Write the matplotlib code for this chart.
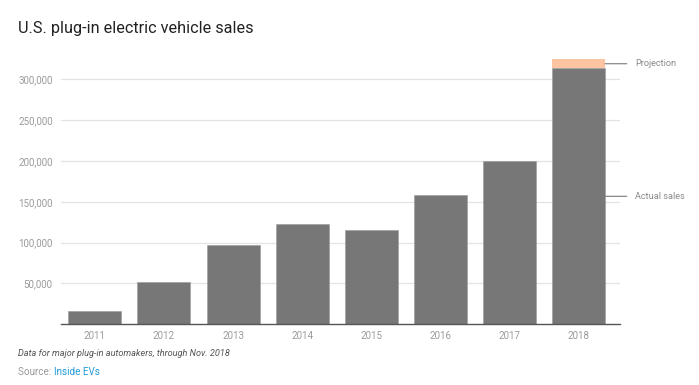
import matplotlib
matplotlib.use("Agg")
import matplotlib.pyplot as plt

years = ["2011", "2012", "2013", "2014", "2015", "2016", "2017", "2018"]
actual_sales = [16600, 51800, 97000, 122400, 115800, 157900, 199800, 313400]
projection = [0, 0, 0, 0, 0, 0, 0, 11400]
yticks = [50000, 100000, 150000, 200000, 250000, 300000]

plt.rcParams['font.family'] = ['Roboto', 'DejaVu Sans']

W, H = 699, 385
fig = plt.figure(figsize=(W / 100, H / 100), dpi=100)
left, right, bottom, top = 61, 620, 324.3, 50
ax = fig.add_axes([left / W, 1 - bottom / H, (right - left) / W, (bottom - top) / H])

x = list(range(len(years)))
bw = 0.767
ax.bar(x, actual_sales, width=bw, color='#777777', edgecolor='#9a9a9a', linewidth=0.4, zorder=3)
ax.bar(x, projection, bottom=actual_sales, width=bw, color='#fdc4a1', linewidth=0, zorder=3)

px_per_unit = 245 / 300000
ax.set_ylim(0, (bottom - top) / px_per_unit)
ax.set_xlim(-0.489, 7.60)

ax.set_yticks(yticks)
ax.set_yticklabels([f"{v:,}" for v in yticks])
ax.set_xticks(x)
ax.set_xticklabels(years)
ax.tick_params(axis='both', length=0, labelsize=7, labelcolor='#9a9a9a')
ax.tick_params(axis='y', pad=6)
ax.tick_params(axis='x', pad=5)
ax.grid(axis='y', color='#e3e3e3', linewidth=0.9, zorder=0)
for s in ['top', 'right', 'left']:
    ax.spines[s].set_visible(False)
ax.spines['bottom'].set_color('#555555')
ax.spines['bottom'].set_linewidth(1.0)
ax.spines['bottom'].set_zorder(4)

# annotations
last = len(years) - 1
for label, yv in [("Projection", actual_sales[last] + projection[last] / 2),
                  ("Actual sales", actual_sales[last] / 2)]:
    ax.annotate(label, xy=(last + bw / 2, yv), xytext=(30, 0), textcoords='offset pixels',
                ha='left', va='center', fontsize=6.6, color='#8a8a8a',
                arrowprops=dict(arrowstyle='-', color='#888888', lw=0.9, shrinkA=4, shrinkB=0),
                annotation_clip=False)

fig.text(18 / W, 1 - 28 / H, "U.S. plug-in electric vehicle sales", fontsize=11.7,
         color='#222222', ha='left', va='center')
fig.text(18 / W, 1 - 354 / H, "Data for major plug-in automakers, through Nov. 2018",
         fontsize=6.6, style='italic', color='#555555', ha='left', va='center')
t1 = fig.text(18 / W, 1 - 372 / H, "Source: ", fontsize=7.1, color='#999999', ha='left', va='center')
fig.canvas.draw()
bb = t1.get_window_extent(fig.canvas.get_renderer())
fig.text(bb.x1 / W, 1 - 372 / H, "Inside EVs", fontsize=7.1, color='#1f9bd8', ha='left', va='center')

fig.savefig("out.png", dpi=100)
